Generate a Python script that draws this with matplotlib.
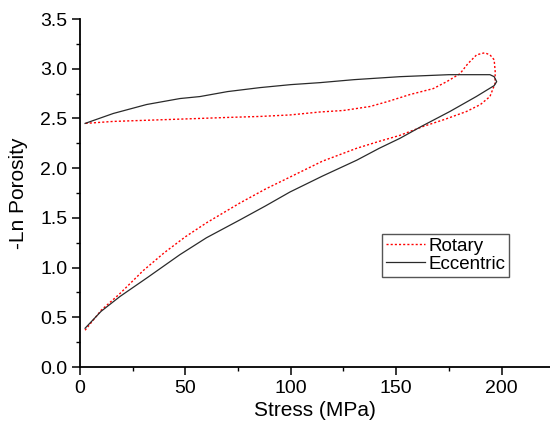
import matplotlib.pyplot as plt
from matplotlib.ticker import MultipleLocator

plt.rcParams['font.family'] = ['Liberation Sans', 'DejaVu Sans']

# Eccentric: loading (lower branch) then unloading (upper branch)
ecc_x = [2.4, 10, 19, 32, 47.4, 60, 75.9, 88, 99.6, 115, 131.3, 142, 151.8, 162, 175.5, 188, 196.5,
         197.7, 196.5, 194.5, 175, 151.8, 130, 113.9, 100, 85.4, 70, 56.9, 47.4, 31.6, 15.8, 2.4]
ecc_y = [0.39, 0.56, 0.71, 0.90, 1.13, 1.30, 1.48, 1.62, 1.76, 1.92, 2.08, 2.20, 2.30, 2.42, 2.57, 2.72, 2.83,
         2.87, 2.92, 2.94, 2.94, 2.92, 2.89, 2.86, 2.84, 2.81, 2.77, 2.72, 2.70, 2.64, 2.55, 2.45]

# Rotary: loading, small overshoot loop at the top, unloading
rot_x = [2.4, 10, 19, 30, 40, 50, 60, 75.9, 88, 99.6, 115, 131.3, 142, 151.8, 162.9, 173, 183.4, 190, 194.5,
         196.9, 197.0, 196.5, 194.5, 192, 188.2, 184, 180.3, 174, 167.6, 156.5, 146, 137.6, 125, 113.9, 99.6,
         85.4, 70, 56.9, 36.4, 15.8, 2.4]
rot_y = [0.37, 0.57, 0.74, 0.97, 1.15, 1.31, 1.45, 1.65, 1.79, 1.91, 2.07, 2.20, 2.27, 2.33, 2.42, 2.49, 2.57, 2.64, 2.72,
         2.85, 2.97, 3.09, 3.14, 3.16, 3.14, 3.05, 2.95, 2.87, 2.80, 2.74, 2.67, 2.62, 2.58, 2.565, 2.535,
         2.52, 2.51, 2.50, 2.485, 2.47, 2.45]

fig = plt.figure(figsize=(5.5, 4.28), dpi=100)
ax = fig.add_axes([0.1455, 0.1425, 0.8545, 0.8131])

ax.plot(rot_x, rot_y, color='red', linestyle=(0, (1.5, 1.5)), linewidth=1.0, label='Rotary')
ax.plot(ecc_x, ecc_y, color='#2a2a2a', linestyle='-', linewidth=0.9, label='Eccentric')

ax.set_xlim(0, 223)
ax.set_ylim(0, 3.5)
ax.xaxis.set_major_locator(MultipleLocator(50))
ax.xaxis.set_minor_locator(MultipleLocator(25))
ax.yaxis.set_major_locator(MultipleLocator(0.5))
ax.yaxis.set_minor_locator(MultipleLocator(0.25))
ax.yaxis.set_major_formatter(plt.FormatStrFormatter('%.1f'))

ax.spines['top'].set_visible(False)
ax.spines['right'].set_visible(False)
ax.spines['left'].set_linewidth(1.3)
ax.spines['bottom'].set_linewidth(1.3)
ax.tick_params(which='major', direction='out', length=6, width=1.1, labelsize=14, pad=3)
ax.tick_params(which='minor', direction='out', length=3, width=1.0)

ax.set_xlabel('Stress (MPa)', fontsize=15, labelpad=3)
ax.set_ylabel('-Ln Porosity', fontsize=15, labelpad=9)

leg = ax.legend(loc='upper left', bbox_to_anchor=(0.643, 0.382), borderaxespad=0,
                fontsize=13.5, handlelength=2.1, handletextpad=0.15, borderpad=0.2,
                labelspacing=0.05, fancybox=False, framealpha=1)
leg.get_frame().set_edgecolor('#555555')
leg.get_frame().set_linewidth(1.0)

fig.savefig('out.png', dpi=100)
